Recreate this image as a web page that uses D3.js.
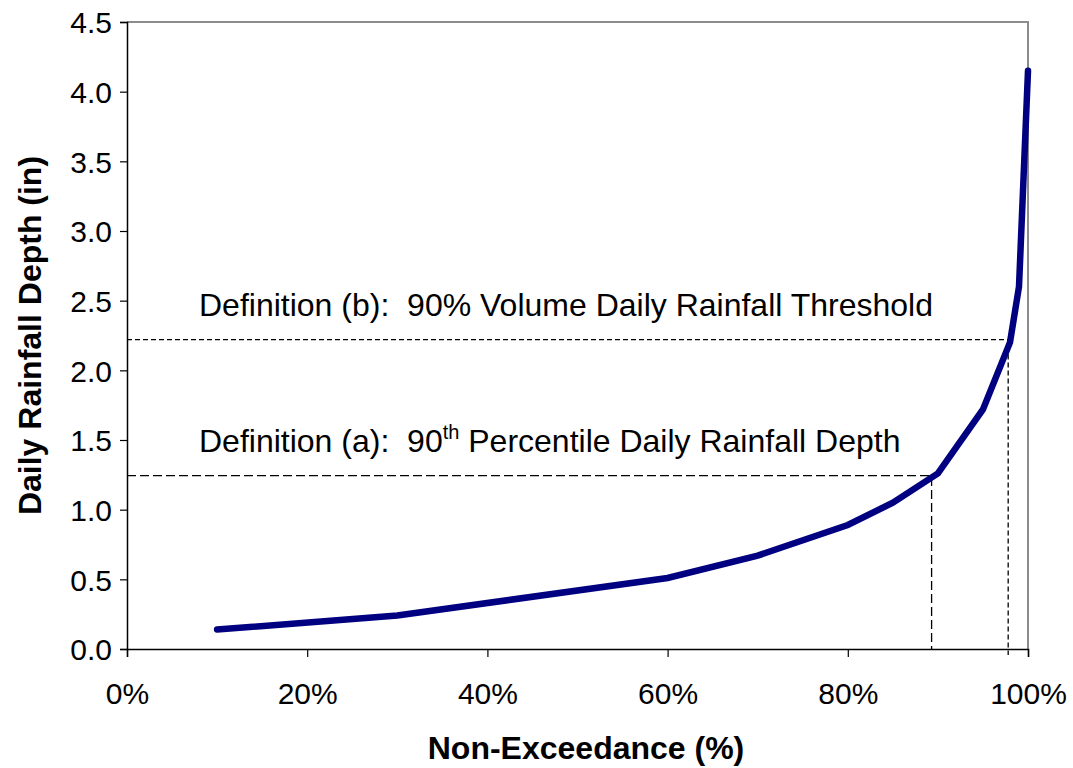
<!DOCTYPE html>
<html><head><meta charset="utf-8">
<script src="https://cdn.jsdelivr.net/npm/d3@7"></script>
<style>body{margin:0;background:#fff;} svg{display:block;font-family:"Liberation Sans",Arial,sans-serif;}</style>
</head><body>
<script>
const nonExceedance = [10, 30, 60, 70, 80, 85, 90, 95, 98, 99, 100];
const depth = [0.14, 0.24, 0.51, 0.67, 0.89, 1.05, 1.26, 1.72, 2.2, 2.6, 4.15];
const xTicks = [0, 20, 40, 60, 80, 100];
const yTicks = [0, 0.5, 1.0, 1.5, 2.0, 2.5, 3.0, 3.5, 4.0, 4.5];
const defA = {x: 89.3, y: 1.245, label: "Definition (a):  90", sup: "th", rest: " Percentile Daily Rainfall Depth"};
const defB = {x: 97.8, y: 2.22, label: "Definition (b):  90% Volume Daily Rainfall Threshold"};

const W = 1073, H = 768;
const m = {left: 127, right: 1073 - 1028, top: 22, bottom: 768 - 649};
const svg = d3.select("body").append("svg").attr("width", W).attr("height", H);
const x = d3.scaleLinear().domain([0, 100]).range([m.left, W - m.right]);
const y = d3.scaleLinear().domain([0, 4.5]).range([H - m.bottom, m.top]);

// frame top/right in gray
svg.append("path").attr("d", `M${x(0)},${y(4.5)}H${x(100)}V${y(0)}`)
  .attr("fill", "none").attr("stroke", "#8c8c8c").attr("stroke-width", 2);

// axes
const xAxis = svg.append("g").attr("transform", `translate(0,${y(0)})`)
  .call(d3.axisBottom(x).tickValues(xTicks).tickFormat(d => d + "%").tickSize(8).tickPadding(26));
const yAxis = svg.append("g").attr("transform", `translate(${x(0)},0)`)
  .call(d3.axisLeft(y).tickValues(yTicks).tickFormat(d3.format(".1f")).tickSize(7).tickPadding(8));
[xAxis, yAxis].forEach(g => {
  g.select(".domain").attr("stroke", "#000").attr("stroke-width", 1.5);
  g.selectAll(".tick line").attr("stroke", "#000").attr("stroke-width", 1.2);
  g.selectAll("text").attr("font-size", 30).attr("fill", "#000")
    .attr("font-family", "'Liberation Sans', Arial, sans-serif");
});
yAxis.selectAll("text").attr("dy", "0.36em");

// dashed reference lines
svg.append("path")
  .attr("d", `M${x(0)},${y(defA.y)}H${x(defA.x)}V${y(0)}`)
  .attr("fill", "none").attr("stroke", "#000").attr("stroke-width", 1.3)
  .attr("stroke-dasharray", "9,4");
svg.append("path")
  .attr("d", `M${x(0)},${y(defB.y)}H${x(defB.x)}V${y(0) + 6}`)
  .attr("fill", "none").attr("stroke", "#000").attr("stroke-width", 1.3)
  .attr("stroke-dasharray", "5,3");

// curve
const line = d3.line().x((d, i) => x(nonExceedance[i])).y(d => y(d));
svg.append("path").datum(depth).attr("d", line)
  .attr("fill", "none").attr("stroke", "#000080").attr("stroke-width", 6.5)
  .attr("stroke-linecap", "round").attr("stroke-linejoin", "miter");

// annotation texts
svg.append("text").attr("x", 199).attr("y", 316).attr("font-size", 32).attr("fill", "#000")
  .style("white-space", "pre").text(defB.label);
const ta = svg.append("text").attr("x", 199).attr("y", 452).attr("font-size", 32).attr("fill", "#000")
  .style("white-space", "pre");
ta.append("tspan").text(defA.label);
ta.append("tspan").attr("font-size", 20).attr("dy", -13).text(defA.sup);
ta.append("tspan").attr("dy", 13).text(defA.rest);

// axis titles
svg.append("text").attr("x", 586).attr("y", 759).attr("text-anchor", "middle")
  .attr("font-size", 32).attr("font-weight", "bold").text("Non-Exceedance (%)");
svg.append("text").attr("transform", `translate(41,${(y(0) + y(4.5)) / 2}) rotate(-90)`)
  .attr("text-anchor", "middle").attr("font-size", 32).attr("font-weight", "bold")
  .text("Daily Rainfall Depth (in)");
</script>
</body></html>
